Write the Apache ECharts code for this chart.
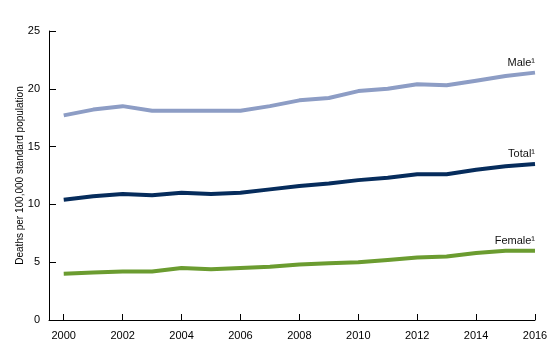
<!DOCTYPE html>
<html><head><meta charset="utf-8">
<script src="https://cdn.jsdelivr.net/npm/echarts@6/dist/echarts.min.js"></script>
<style>html,body{margin:0;padding:0;background:#fff}#c{width:560px;height:355px}</style>
</head><body><div id="c"></div>
<script>
var years = [2000,2001,2002,2003,2004,2005,2006,2007,2008,2009,2010,2011,2012,2013,2014,2015,2016];
var male = [17.7,18.2,18.5,18.1,18.1,18.1,18.1,18.5,19.0,19.2,19.8,20.0,20.4,20.3,20.7,21.1,21.4];
var total = [10.4,10.7,10.9,10.8,11.0,10.9,11.0,11.3,11.6,11.8,12.1,12.3,12.6,12.6,13.0,13.3,13.5];
var female = [4.0,4.1,4.2,4.2,4.5,4.4,4.5,4.6,4.8,4.9,5.0,5.2,5.4,5.5,5.8,6.0,6.0];
var xTicks = [2000,2002,2004,2006,2008,2010,2012,2014,2016];
var yTicks = [0,5,10,15,20,25];
var seriesNames = ['Male\u00b9','Total\u00b9','Female\u00b9'];
var FONT = 'Liberation Sans, Arial, sans-serif';

function mk(name, vals, color) {
  return {name:name, type:'line', symbol:'none', silent:true,
    data: years.map(function(y,i){ return [y, vals[i]]; }),
    lineStyle:{color:color, width:4}, itemStyle:{color:color},
    endLabel:{show:true, formatter:name, align:'right', verticalAlign:'bottom',
      distance:0, offset:[0,-4], color:'#111', fontFamily:FONT, fontSize:11}};
}

var chart = echarts.init(document.getElementById('c'), null, {renderer:'canvas'});
chart.setOption({
  animation:false,
  grid:{left:49, right:25, top:31, bottom:35},
  xAxis:{type:'value', min:1999.5, max:2016,
    axisLine:{lineStyle:{color:'#000', width:1}},
    axisTick:{show:true, inside:true, length:6, customValues:xTicks, lineStyle:{color:'#000'}},
    axisLabel:{customValues:xTicks, color:'#000', fontSize:11, margin:10,
      fontFamily:FONT, formatter:function(v){return String(v);}},
    splitLine:{show:false}},
  yAxis:{type:'value', min:0, max:25, interval:5,
    name:'Deaths per 100,000 standard population', nameLocation:'middle', nameGap:24,
    nameMoveOverlap:false,
    nameTextStyle:{color:'#000', fontSize:10, fontFamily:FONT},
    axisLine:{show:true, lineStyle:{color:'#000', width:1}},
    axisTick:{show:true, inside:true, length:7, lineStyle:{color:'#000'}},
    axisLabel:{customValues:yTicks, color:'#000', fontSize:11, margin:9, fontFamily:FONT},
    splitLine:{show:false}},
  series:[
    mk(seriesNames[0], male, '#8d9dc5'),
    mk(seriesNames[1], total, '#062c5c'),
    mk(seriesNames[2], female, '#6b9c30')
  ]
});
</script></body></html>
